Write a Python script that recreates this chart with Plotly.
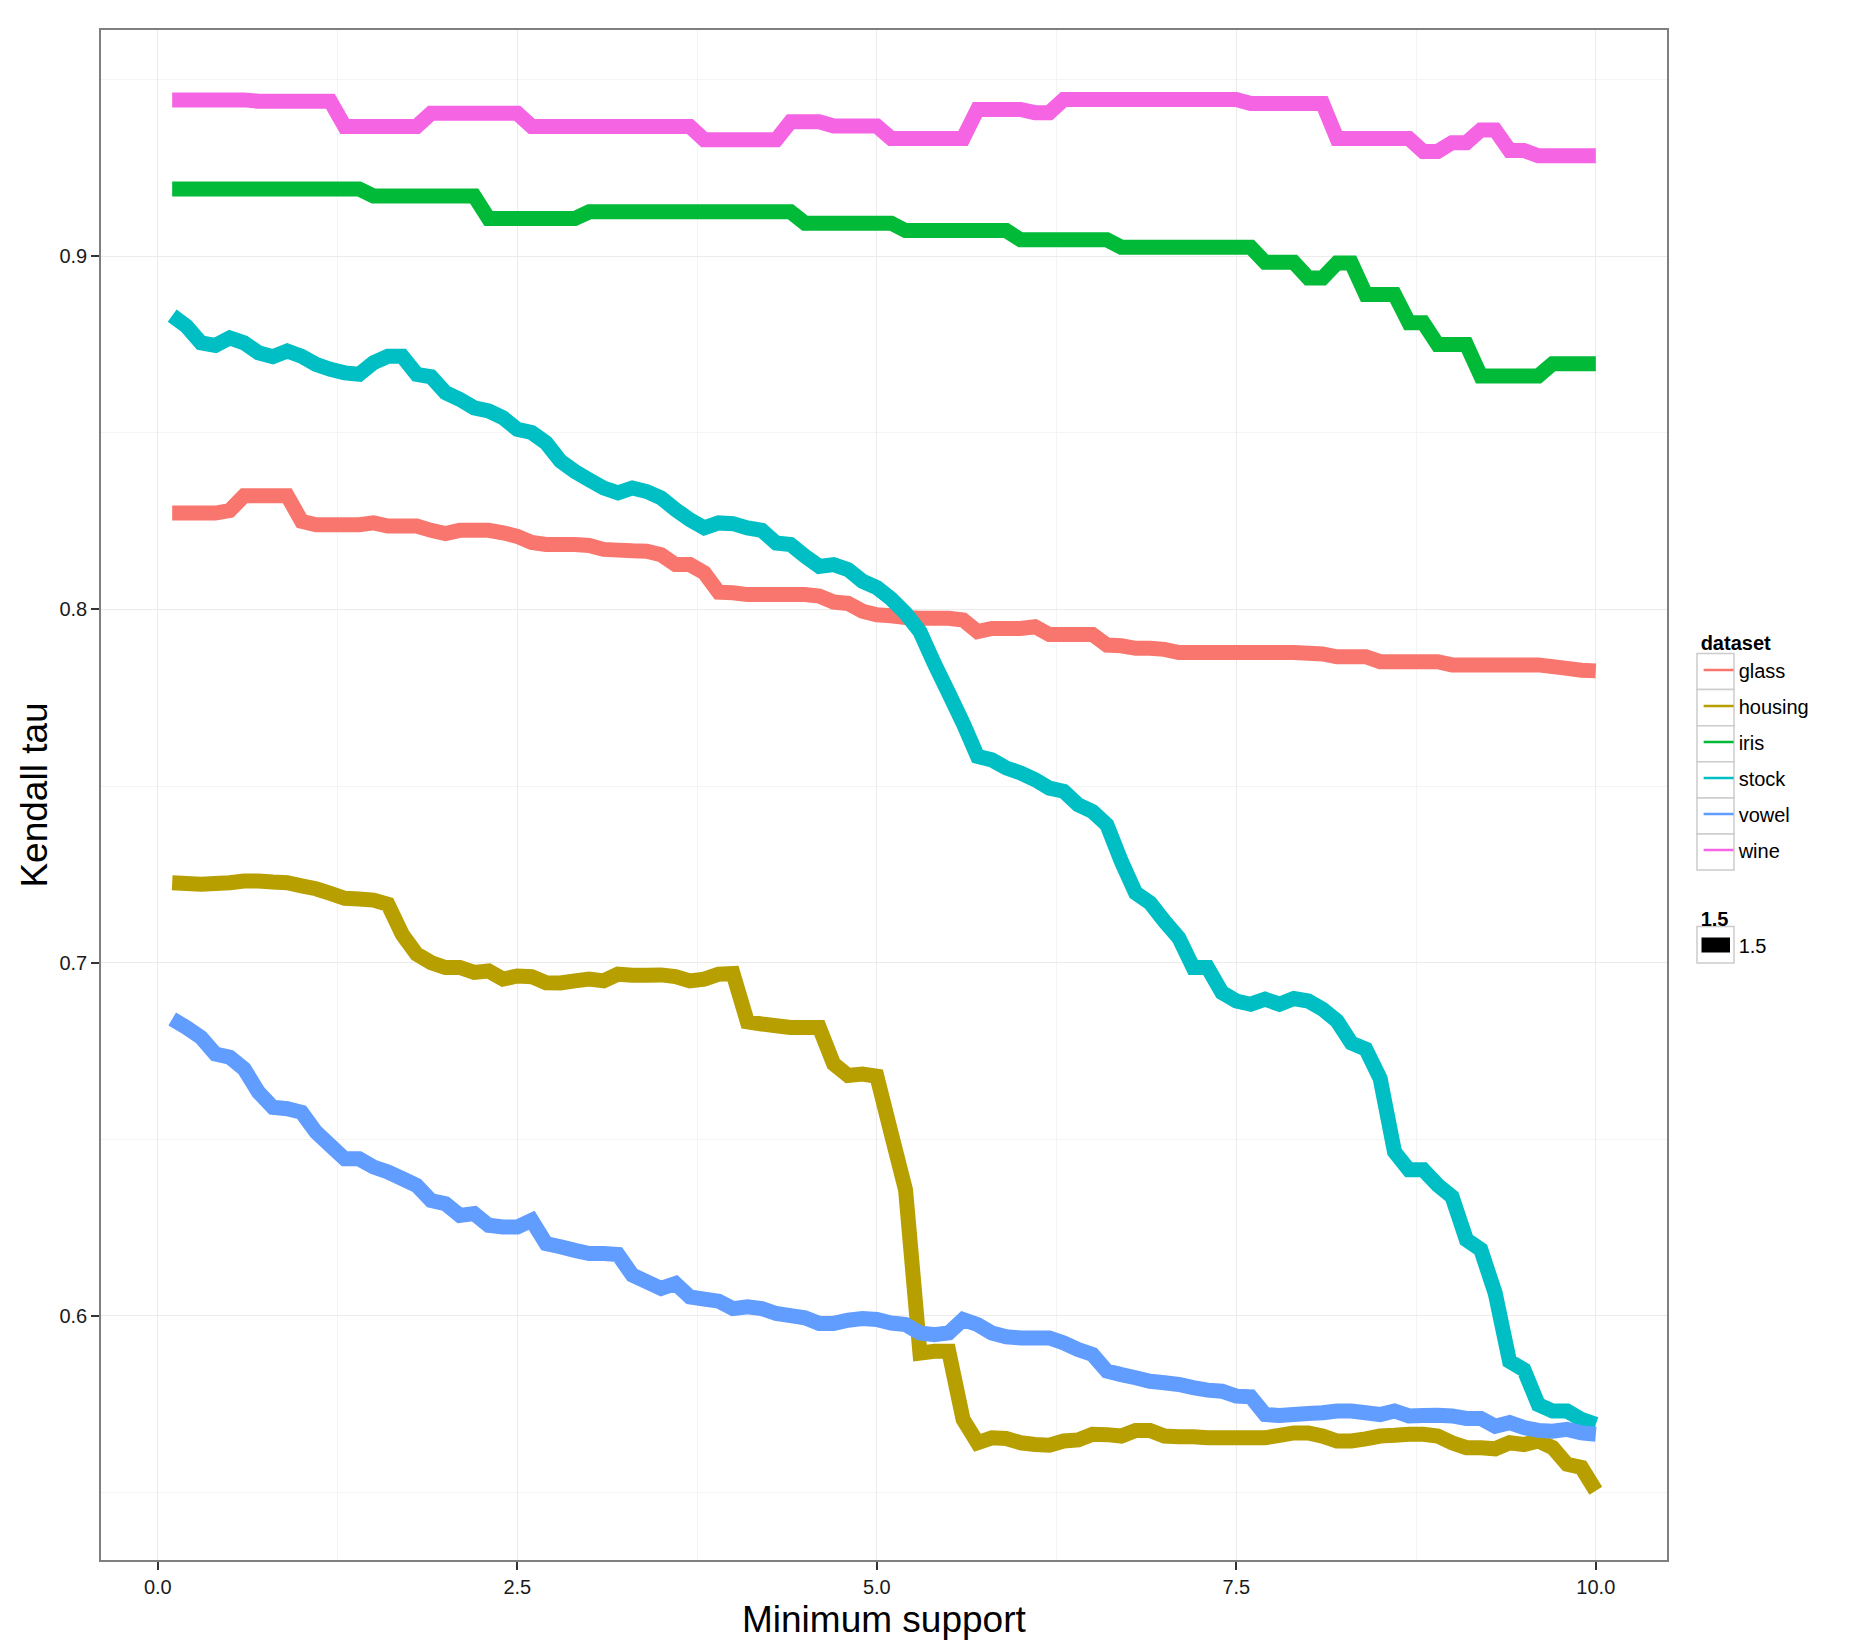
import plotly.graph_objects as go

x_support = [0.1, 0.2, 0.3, 0.4, 0.5, 0.6, 0.7, 0.8, 0.9, 1.0,
             1.1, 1.2, 1.3, 1.4, 1.5, 1.6, 1.7, 1.8, 1.9, 2.0,
             2.1, 2.2, 2.3, 2.4, 2.5, 2.6, 2.7, 2.8, 2.9, 3.0,
             3.1, 3.2, 3.3, 3.4, 3.5, 3.6, 3.7, 3.8, 3.9, 4.0,
             4.1, 4.2, 4.3, 4.4, 4.5, 4.6, 4.7, 4.8, 4.9, 5.0,
             5.1, 5.2, 5.3, 5.4, 5.5, 5.6, 5.7, 5.8, 5.9, 6.0,
             6.1, 6.2, 6.3, 6.4, 6.5, 6.6, 6.7, 6.8, 6.9, 7.0,
             7.1, 7.2, 7.3, 7.4, 7.5, 7.6, 7.7, 7.8, 7.9, 8.0,
             8.1, 8.2, 8.3, 8.4, 8.5, 8.6, 8.7, 8.8, 8.9, 9.0,
             9.1, 9.2, 9.3, 9.4, 9.5, 9.6, 9.7, 9.8, 9.9, 10.0]

glass = [0.8273, 0.8273, 0.8273, 0.8273, 0.8280, 0.8322, 0.8322, 0.8322, 0.8322, 0.8250,
         0.8240, 0.8240, 0.8240, 0.8240, 0.8245, 0.8236, 0.8236, 0.8236, 0.8224, 0.8215,
         0.8224, 0.8224, 0.8224, 0.8217, 0.8207, 0.8190, 0.8184, 0.8184, 0.8184, 0.8181,
         0.8170, 0.8168, 0.8166, 0.8165, 0.8155, 0.8127, 0.8127, 0.8104, 0.8049, 0.8047,
         0.8042, 0.8042, 0.8042, 0.8042, 0.8042, 0.8038, 0.8021, 0.8017, 0.7995, 0.7985,
         0.7982, 0.7977, 0.7975, 0.7975, 0.7975, 0.7970, 0.7937, 0.7946, 0.7946, 0.7946,
         0.7951, 0.7929, 0.7929, 0.7929, 0.7929, 0.7899, 0.7897, 0.7890, 0.7890, 0.7887,
         0.7878, 0.7878, 0.7878, 0.7878, 0.7878, 0.7878, 0.7878, 0.7878, 0.7878, 0.7876,
         0.7874, 0.7866, 0.7866, 0.7866, 0.7852, 0.7852, 0.7852, 0.7852, 0.7852, 0.7843,
         0.7843, 0.7843, 0.7843, 0.7843, 0.7843, 0.7843, 0.7838, 0.7833, 0.7828, 0.7826]

housing = [0.7226, 0.7224, 0.7222, 0.7224, 0.7226, 0.7231, 0.7231, 0.7228, 0.7226, 0.7217,
           0.7209, 0.7196, 0.7182, 0.7180, 0.7177, 0.7165, 0.7080, 0.7024, 0.7000, 0.6986,
           0.6986, 0.6972, 0.6976, 0.6953, 0.6962, 0.6960, 0.6943, 0.6942, 0.6948, 0.6953,
           0.6948, 0.6967, 0.6964, 0.6964, 0.6965, 0.6960, 0.6948, 0.6953, 0.6967, 0.6969,
           0.6832, 0.6826, 0.6821, 0.6816, 0.6816, 0.6816, 0.6713, 0.6680, 0.6684, 0.6678,
           0.6516, 0.6356, 0.5894, 0.5899, 0.5899, 0.5706, 0.5640, 0.5654, 0.5652, 0.5640,
           0.5635, 0.5633, 0.5645, 0.5648, 0.5664, 0.5663, 0.5659, 0.5675, 0.5675, 0.5659,
           0.5657, 0.5657, 0.5654, 0.5654, 0.5654, 0.5654, 0.5654, 0.5661, 0.5668, 0.5668,
           0.5659, 0.5645, 0.5645, 0.5651, 0.5659, 0.5661, 0.5664, 0.5664, 0.5659, 0.5640,
           0.5626, 0.5626, 0.5623, 0.5640, 0.5635, 0.5645, 0.5626, 0.5579, 0.5570, 0.5504]

iris = [0.9191, 0.9191, 0.9191, 0.9191, 0.9191, 0.9191, 0.9191, 0.9191, 0.9191, 0.9191,
        0.9191, 0.9191, 0.9191, 0.9191, 0.9171, 0.9171, 0.9171, 0.9171, 0.9171, 0.9171,
        0.9171, 0.9171, 0.9107, 0.9107, 0.9107, 0.9107, 0.9107, 0.9107, 0.9107, 0.9126,
        0.9126, 0.9126, 0.9126, 0.9126, 0.9126, 0.9126, 0.9126, 0.9126, 0.9126, 0.9126,
        0.9126, 0.9126, 0.9126, 0.9126, 0.9094, 0.9094, 0.9094, 0.9094, 0.9094, 0.9094,
        0.9094, 0.9073, 0.9073, 0.9073, 0.9073, 0.9073, 0.9073, 0.9073, 0.9073, 0.9047,
        0.9047, 0.9047, 0.9047, 0.9047, 0.9047, 0.9047, 0.9026, 0.9026, 0.9026, 0.9026,
        0.9026, 0.9026, 0.9026, 0.9026, 0.9026, 0.9026, 0.8983, 0.8983, 0.8983, 0.8939,
        0.8939, 0.8981, 0.8981, 0.8892, 0.8892, 0.8892, 0.8812, 0.8812, 0.8750, 0.8750,
        0.8750, 0.8661, 0.8661, 0.8661, 0.8661, 0.8661, 0.8696, 0.8696, 0.8696, 0.8696]

stock = [0.8832, 0.8802, 0.8755, 0.8748, 0.8769, 0.8755, 0.8727, 0.8716, 0.8732, 0.8717,
         0.8694, 0.8680, 0.8670, 0.8666, 0.8699, 0.8717, 0.8717, 0.8666, 0.8659, 0.8614,
         0.8595, 0.8571, 0.8562, 0.8543, 0.8510, 0.8501, 0.8472, 0.8420, 0.8391, 0.8367,
         0.8344, 0.8330, 0.8344, 0.8334, 0.8316, 0.8283, 0.8254, 0.8231, 0.8245, 0.8243,
         0.8231, 0.8224, 0.8188, 0.8184, 0.8151, 0.8122, 0.8127, 0.8113, 0.8080, 0.8062,
         0.8030, 0.7989, 0.7937, 0.7847, 0.7763, 0.7678, 0.7584, 0.7574, 0.7551, 0.7537,
         0.7518, 0.7494, 0.7485, 0.7447, 0.7428, 0.7390, 0.7287, 0.7197, 0.7169, 0.7117,
         0.7070, 0.6986, 0.6986, 0.6915, 0.6891, 0.6882, 0.6896, 0.6882, 0.6898, 0.6891,
         0.6868, 0.6835, 0.6772, 0.6755, 0.6672, 0.6464, 0.6413, 0.6413, 0.6370, 0.6337,
         0.6215, 0.6187, 0.6064, 0.5871, 0.5847, 0.5748, 0.5730, 0.5730, 0.5706, 0.5692]

vowel = [0.6840, 0.6816, 0.6788, 0.6741, 0.6732, 0.6699, 0.6633, 0.6590, 0.6586, 0.6576,
         0.6520, 0.6482, 0.6444, 0.6444, 0.6421, 0.6407, 0.6388, 0.6369, 0.6326, 0.6317,
         0.6284, 0.6289, 0.6256, 0.6251, 0.6251, 0.6270, 0.6204, 0.6195, 0.6185, 0.6176,
         0.6176, 0.6173, 0.6115, 0.6096, 0.6077, 0.6091, 0.6053, 0.6047, 0.6041, 0.6020,
         0.6025, 0.6020, 0.6006, 0.6000, 0.5994, 0.5978, 0.5978, 0.5987, 0.5992, 0.5989,
         0.5979, 0.5975, 0.5951, 0.5946, 0.5951, 0.5989, 0.5975, 0.5951, 0.5940, 0.5937,
         0.5937, 0.5937, 0.5923, 0.5904, 0.5890, 0.5843, 0.5833, 0.5824, 0.5814, 0.5810,
         0.5805, 0.5796, 0.5789, 0.5786, 0.5772, 0.5770, 0.5720, 0.5717, 0.5720, 0.5723,
         0.5725, 0.5730, 0.5730, 0.5725, 0.5720, 0.5730, 0.5716, 0.5717, 0.5718, 0.5716,
         0.5709, 0.5709, 0.5687, 0.5697, 0.5683, 0.5675, 0.5673, 0.5678, 0.5668, 0.5664]

wine = [0.9443, 0.9443, 0.9443, 0.9443, 0.9443, 0.9443, 0.9439, 0.9439, 0.9439, 0.9439,
        0.9439, 0.9439, 0.9368, 0.9368, 0.9368, 0.9368, 0.9368, 0.9368, 0.9405, 0.9405,
        0.9405, 0.9405, 0.9405, 0.9405, 0.9405, 0.9368, 0.9368, 0.9368, 0.9368, 0.9368,
        0.9368, 0.9368, 0.9368, 0.9368, 0.9368, 0.9368, 0.9368, 0.9330, 0.9330, 0.9330,
        0.9330, 0.9330, 0.9330, 0.9381, 0.9381, 0.9381, 0.9369, 0.9369, 0.9369, 0.9369,
        0.9334, 0.9334, 0.9334, 0.9334, 0.9334, 0.9334, 0.9416, 0.9416, 0.9416, 0.9416,
        0.9407, 0.9407, 0.9444, 0.9444, 0.9444, 0.9444, 0.9444, 0.9444, 0.9444, 0.9444,
        0.9444, 0.9444, 0.9444, 0.9444, 0.9444, 0.9433, 0.9433, 0.9433, 0.9433, 0.9433,
        0.9433, 0.9334, 0.9334, 0.9334, 0.9334, 0.9334, 0.9334, 0.9297, 0.9297, 0.9322,
        0.9322, 0.9358, 0.9358, 0.9300, 0.9300, 0.9285, 0.9285, 0.9285, 0.9285, 0.9285]

dataset_names = ["glass", "housing", "iris", "stock", "vowel", "wine"]
dataset_values = [glass, housing, iris, stock, vowel, wine]
dataset_colors = ["#F8766D", "#B79F00", "#00BA38", "#00BFC4", "#619CFF", "#F564E3"]
size_label = "1.5"
x_title = "Minimum support"
y_title = "Kendall tau"

FONT = "Liberation Sans, Arial, Helvetica, sans-serif"

# figure geometry (pixels) used to place the legend key boxes
W, H = 1871, 1650
ML, MR, MT, MB = 101, 204, 30, 90
PW, PH = W - ML - MR, H - MT - MB


def px_to_paper_x(px):
    return (px - ML) / PW


def px_to_paper_y(py):
    return 1 - (py - MT) / PH


fig = go.Figure()

for name, vals, col in zip(dataset_names, dataset_values, dataset_colors):
    fig.add_trace(go.Scatter(
        x=x_support, y=vals, mode="lines", name=name,
        line=dict(color=col, width=15, simplify=False),
        legendgroup=name, showlegend=False, hoverinfo="x+y+name",
    ))

# legend entries (thin keys as in the reference)
for name, col in zip(dataset_names, dataset_colors):
    fig.add_trace(go.Scatter(
        x=[None], y=[None], mode="lines", name=name,
        line=dict(color=col, width=2.5),
        legendgroup=name, showlegend=True, legend="legend",
    ))

fig.add_trace(go.Scatter(
    x=[None], y=[None], mode="lines", name=size_label,
    line=dict(color="rgba(0,0,0,0)", width=1),
    showlegend=True, legend="legend2",
))

# ggplot-style legend key boxes
shapes = []
box_left, box_right = 1697, 1734
box_top0, box_h = 653.5, 36.1
for i in range(len(dataset_names)):
    t = box_top0 + i * box_h
    shapes.append(dict(
        type="rect", xref="paper", yref="paper", layer="above",
        x0=px_to_paper_x(box_left), x1=px_to_paper_x(box_right),
        y0=px_to_paper_y(t), y1=px_to_paper_y(t + box_h),
        line=dict(color="#CCCCCC", width=1.5), fillcolor="white",
    ))
shapes.append(dict(
    type="rect", xref="paper", yref="paper", layer="above",
    x0=px_to_paper_x(box_left), x1=px_to_paper_x(box_right),
    y0=px_to_paper_y(926.5), y1=px_to_paper_y(963),
    line=dict(color="#CCCCCC", width=1.5), fillcolor="white",
))
shapes.append(dict(
    type="rect", xref="paper", yref="paper", layer="above",
    x0=px_to_paper_x(1701.5), x1=px_to_paper_x(1730),
    y0=px_to_paper_y(937.5), y1=px_to_paper_y(952.5),
    line=dict(width=0), fillcolor="black",
))

fig.update_layout(
    width=W, height=H,
    margin=dict(l=ML, r=MR, t=MT, b=MB),
    paper_bgcolor="white", plot_bgcolor="white",
    font=dict(family=FONT, size=20, color="#1a1a1a"),
    shapes=shapes,
    annotations=[dict(
        text=x_title, xref="paper", yref="paper",
        x=0.5, y=px_to_paper_y(1619), xanchor="center", yanchor="middle",
        showarrow=False, font=dict(size=37, color="black"),
    )],
    legend=dict(
        title=dict(text="<b>dataset</b>", font=dict(size=20, color="black")),
        x=1.0202, xanchor="left", y=0.6115, yanchor="top",
        font=dict(size=20, color="black"),
        tracegroupgap=7, itemwidth=30, bgcolor="rgba(0,0,0,0)",
    ),
    legend2=dict(
        title=dict(text="<b>1.5</b>", font=dict(size=20, color="black")),
        x=1.0202, xanchor="left", y=0.4314, yanchor="top",
        font=dict(size=20, color="black"),
        itemwidth=30, bgcolor="rgba(0,0,0,0)",
    ),
    xaxis=dict(
        range=[-0.395, 10.495], tick0=0, dtick=2.5, tickformat=".1f",
        showgrid=True, gridcolor="#EBEBEB", gridwidth=1.2,
        minor=dict(dtick=1.25, showgrid=True, gridcolor="#F4F4F4", gridwidth=1),
        zeroline=False,
        showline=True, mirror=True, linecolor="#7F7F7F", linewidth=1.5,
        ticks="outside", ticklen=8, tickwidth=1.5, tickcolor="#333333",
        tickfont=dict(size=20, color="#1a1a1a"),
        automargin=False,
    ),
    yaxis=dict(
        range=[0.5308, 0.9641], tick0=0.6, dtick=0.1, tickformat=".1f",
        showgrid=True, gridcolor="#EBEBEB", gridwidth=1.2,
        minor=dict(dtick=0.05, showgrid=True, gridcolor="#F4F4F4", gridwidth=1),
        zeroline=False,
        showline=True, mirror=True, linecolor="#7F7F7F", linewidth=1.5,
        ticks="outside", ticklen=8, tickwidth=1.5, tickcolor="#333333",
        tickfont=dict(size=20, color="#1a1a1a"),
        title=dict(text=y_title, font=dict(size=37, color="black"), standoff=0),
        automargin=False,
    ),
)

fig.write_html("out.html")
